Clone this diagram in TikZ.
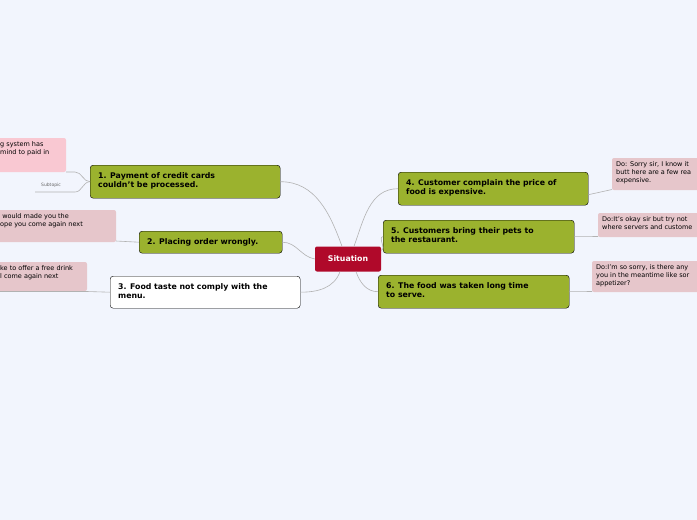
\documentclass[tikz,border=0pt]{standalone}
\usepackage{fontspec}
\setmainfont{DejaVu Sans}
\begin{document}
\begin{tikzpicture}[x=1pt,y=-1pt,
 topic/.style={draw=black,rounded corners=3pt,fill=olive1,anchor=north west,inner sep=0pt,minimum width=#1},
 tlabel/.style={anchor=north west,font=\bfseries\fontsize{7.8}{9.5}\selectfont,align=left,inner sep=0pt},
 note/.style={fill=#1,rounded corners=2pt,font=\fontsize{6.5}{8.2}\selectfont,align=left,anchor=north west,inner sep=0pt},
 conn/.style={draw=gray!60,line width=0.6pt}]
\definecolor{olive1}{HTML}{9BB22E}
\definecolor{bg}{HTML}{F2F5FD}
\definecolor{pink1}{HTML}{F9C8D2}
\definecolor{pink2}{HTML}{E6C6CB}
\definecolor{red1}{HTML}{B0092A}
\fill[bg] (0,0) rectangle (697,520);
\useasboundingbox (0,0) rectangle (697,520);
\clip (0,0) rectangle (697,520);
\node[fill=red1,rounded corners=2pt,minimum width=66pt,minimum height=25pt,text=white,font=\bfseries\fontsize{7.8}{9}\selectfont] (s) at (348,259) {Situation};
\node[topic=190pt,minimum height=33pt] (t1) at (90,165) {};
\node[tlabel] at (98,172) {1. Payment of credit cards\\couldn't be processed.};
\node[topic=143pt,minimum height=22pt] (t2) at (139,231) {};
\node[tlabel,anchor=west] at (147,242) {2. Placing order wrongly.};
\node[topic=190pt,minimum height=32pt,fill=white] (t3) at (110,276) {};
\node[tlabel] at (118,283) {3. Food taste not comply with the\\menu.};
\node[topic=190pt,minimum height=33pt] (t4) at (398,172) {};
\node[tlabel] at (406,179) {4. Customer complain the price of\\food is expensive.};
\node[topic=191pt,minimum height=33pt] (t5) at (383,220) {};
\node[tlabel] at (391,227) {5. Customers bring their pets to\\the restaurant.};
\node[topic=191pt,minimum height=33pt] (t6) at (378,275) {};
\node[tlabel] at (386,282) {6. The food was taken long time\\to serve.};
% notes
\fill[pink1,rounded corners=2pt] (-10,138) rectangle (66,172);
\node[note=pink1] (n1) at (0,141) {g system has\\ mind to paid in};
\fill[pink2,rounded corners=2pt] (-10,210) rectangle (116,242);
\node[note=pink2] (n2) at (0,213) {\ would made you the\\ope you come again next};
\fill[pink2,rounded corners=2pt] (-10,262) rectangle (87,291);
\node[note=pink2] (n3) at (0,265) {ke to offer a free drink\\l come again next};
\fill[pink2,rounded corners=2pt] (612,158) rectangle (710,190);
\node[note=pink2] (n4) at (616,161) {Do: Sorry sir, I know it\\butt here are a few rea\\expensive.};
\fill[pink2,rounded corners=2pt] (598,213) rectangle (710,237);
\node[note=pink2] (n5) at (602,216) {Do:It's okay sir but try not\\where servers and custome};
\fill[pink2,rounded corners=2pt] (592,261) rectangle (710,292);
\node[note=pink2] (n6) at (596,264) {Do:I'm so sorry, is there any\\you in the meantime like sor\\appetizer?};
\node[font=\fontsize{4.5}{5}\selectfont,text=gray!80!black,inner sep=1pt] (sub) at (51,185) {Subtopic};
% connectors
\draw[conn] (s.north) ++(-6,0) coordinate (a1) (a1) to[out=110,in=0] (t1.east);
\draw[conn] (s.west) to[out=170,in=0] (t2.east);
\draw[conn] (s.south) ++(-8,0) coordinate (a3) (a3) to[out=250,in=0] (t3.east);
\draw[conn] (s.north) ++(6,0) coordinate (a4) (a4) to[out=70,in=180] (t4.west);
\draw[conn] (s.north east) ++(0,4) coordinate (a5) (a5) to[out=10,in=180] (t5.west);
\draw[conn] (s.south) ++(8,0) coordinate (a6) (a6) to[out=290,in=180] (t6.west);
\draw[conn] (t1.west) to[out=180,in=0] (75,172) -- (66,172);
\draw[conn] (t1.west) to[out=180,in=0] (75,192) -- (35,192);
\draw[conn] (t2.west) -- (116,241);
\draw[conn] (t3.west) -- (87,291.5) -- (0,291.5);
\draw[conn] (t4.east) ++(0,6) coordinate (c4) (c4) -- (612,189.5);
\draw[conn] (t5.east) -- (598,236.5);
\draw[conn] (t6.east) -- (592,291.5);
\end{tikzpicture}
\end{document}
